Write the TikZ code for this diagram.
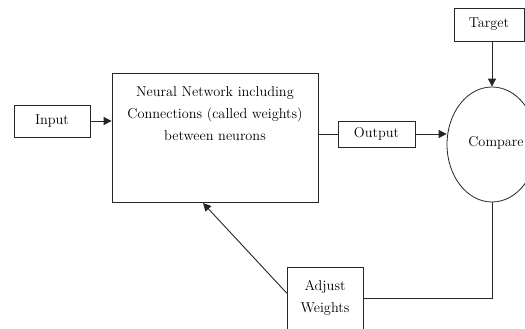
\documentclass[tikz,border=0pt]{standalone}
\usetikzlibrary{shapes.geometric,arrows.meta}
\begin{document}
\begin{tikzpicture}[x=1pt,y=-1pt,
  font=\fontsize{14.3}{22}\selectfont,
  box/.style={draw=black!85,line width=0.8pt,rectangle,inner sep=0pt,align=center},
  conn/.style={draw=black!85,line width=0.9pt},
  arr/.style={conn,-{Triangle[length=8pt,width=8pt]}}]
\useasboundingbox[fill=white] (0,0) rectangle (525,329);
\node[box,minimum width=76pt,minimum height=32pt] (input) at (52,121) {Input};
\node[box,minimum width=206pt,minimum height=129pt] (nn) at (215,137.5) {};
\node[align=center,anchor=north,inner sep=0pt] (nntext) at (215,86) {Neural Network including\\Connections (called weights)\\between neurons};
\node[box,minimum width=77pt,minimum height=26pt] (output) at (376.5,134) {Output};
\node[draw=black!85,line width=0.8pt,ellipse,minimum width=90pt,minimum height=115pt,inner sep=0pt] (compare) at (492,144.5) {};
\node[inner sep=0pt] (comparetext) at (496,143) {Compare};
\node[box,minimum width=70pt,minimum height=33pt] (target) at (489,24.5) {Target};
\node[box,minimum width=76pt,minimum height=72pt,text depth=0pt] (adjust) at (325,303) {};
\node[align=center,inner sep=0pt,anchor=north] (adjusttext) at (325,280) {Adjust\\Weights};
\coordinate (corner) at (492,298);
\coordinate (nnin) at (203,203);
\draw[arr] (input.east) -- (nn.west |- input.east);
\draw[conn] (nn.east |- output.west) -- (output.west);
\draw[arr] (output.east) -- (compare.west |- output.east);
\draw[arr] (target.south -| compare.north) -- (compare.north);
\draw[conn] (compare.south) -- (corner) -- (adjust.east |- corner);
\draw[arr] (adjust.west |- 0,293) -- (nnin);
\end{tikzpicture}
\end{document}
